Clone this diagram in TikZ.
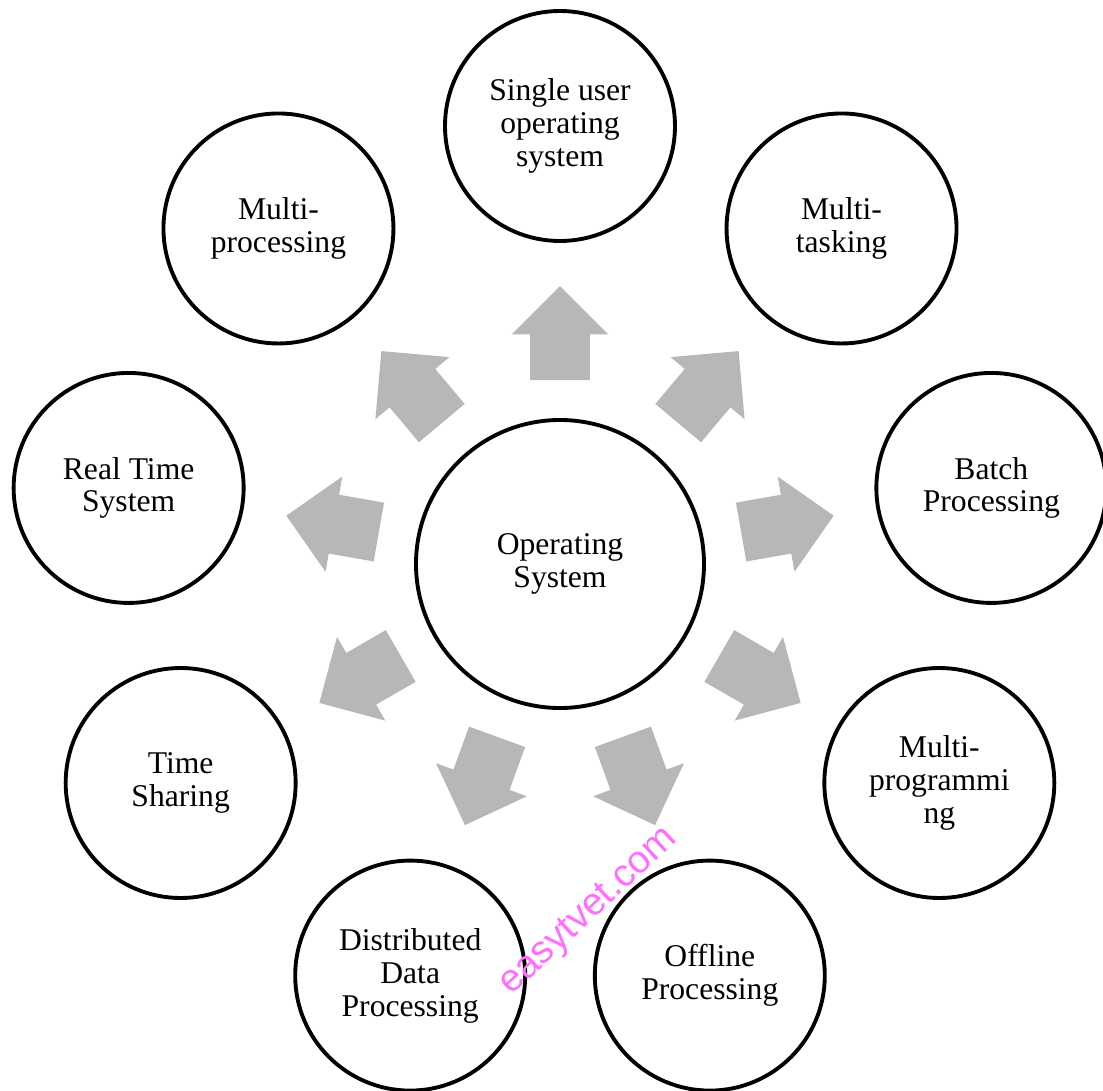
\documentclass[tikz,border=0pt]{standalone}
\usepackage{fontspec}
\setmainfont{Liberation Serif}
\newfontfamily\wmfont{Liberation Sans}
\usetikzlibrary{shapes.arrows}
\definecolor{arrowgray}{RGB}{183,183,183}
\definecolor{wmpink}{RGB}{255,110,255}

\begin{document}
\begin{tikzpicture}
	\tikzstyle{main}=[circle, draw=black, line width=2.2pt, minimum size=4.6cm, inner sep=0pt, align=center, font=\fontsize{18pt}{18.7pt}\selectfont]
	\tikzstyle{hub}=[main, minimum size=5.76cm]
	\tikzstyle{connect}=[single arrow, fill=arrowgray, draw=none, inner xsep=0pt, inner ysep=0.59cm, minimum height=1.88cm, single arrow head extend=0.37cm, sloped, allow upside down, pos=0.4]
	\useasboundingbox (-11.2,-10.52) rectangle (10.86,11.28);
	% centre and the nine kinds round it
	\node[hub] (os) at (0,0) {Operating\\System};
	\node[main] (single) at (90:8.76) {Single user\\operating\\system};
	\node[main] (mtask) at (50:8.76) {Multi-\\tasking};
	\node[main] (batch) at (10:8.76) {Batch\\Processing};
	\node[main] (mprog) at (-30:8.76) {Multi-\\programmi\\ng};
	\node[main] (offline) at (-70:8.76) {Offline\\Processing};
	\node[main] (dist) at (-110:8.76) {Distributed\\Data\\Processing};
	\node[main] (tshare) at (-150:8.76) {Time\\Sharing};
	\node[main] (rtime) at (170:8.76) {Real Time\\System};
	\node[main] (mproc) at (130:8.76) {Multi-\\processing};

	\path (os) -- (single) node[connect] {};
	\path (os) -- (mtask) node[connect] {};
	\path (os) -- (batch) node[connect] {};
	\path (os) -- (mprog) node[connect] {};
	\path (os) -- (offline) node[connect] {};
	\path (os) -- (dist) node[connect] {};
	\path (os) -- (tshare) node[connect] {};
	\path (os) -- (rtime) node[connect] {};
	\path (os) -- (mproc) node[connect] {};

	\node[text=wmpink, rotate=43, font=\fontsize{22pt}{22pt}\wmfont] (wmark) at (0.58,-6.96) {easytvet.com};
\end{tikzpicture}
\end{document}
